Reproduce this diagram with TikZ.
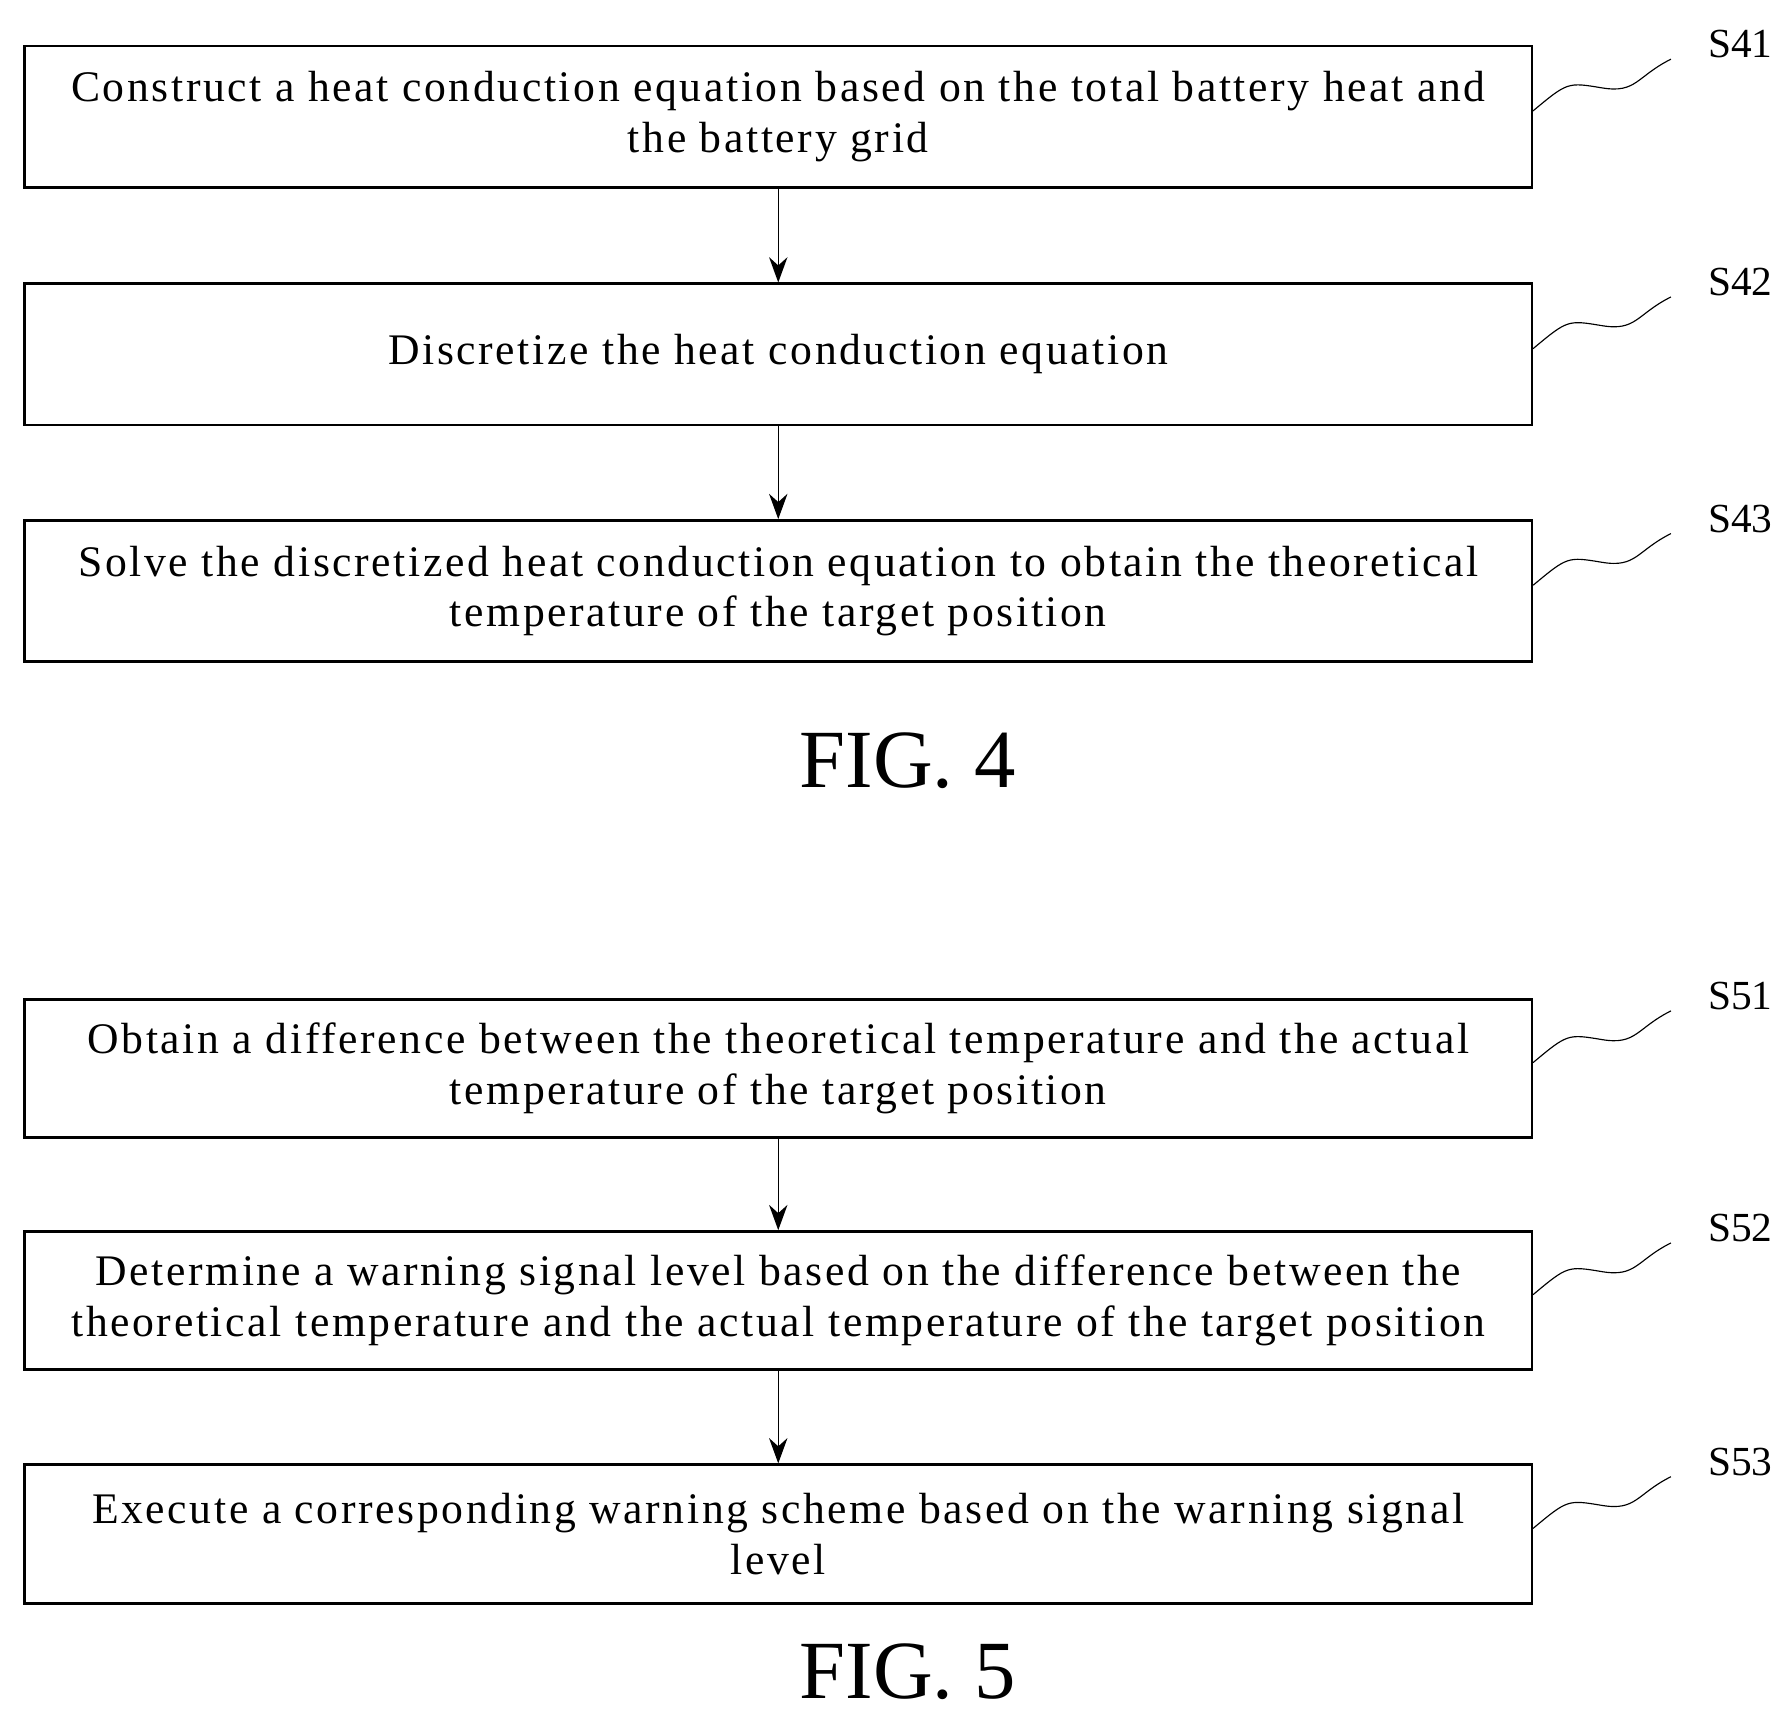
\documentclass[tikz,border=0pt]{standalone}
\usepackage{fontspec}
\setmainfont{Liberation Serif}
\usetikzlibrary{arrows.meta}
\begin{document}
\begin{tikzpicture}[x=1pt,y=-1pt,
 box/.style={draw,line width=2.2pt,minimum width=1312pt,align=center,font=\fontsize{38}{44}\selectfont\addfontfeature{LetterSpace=6},inner sep=0pt},
 arr/.style={-{Stealth[length=22pt,width=16pt]},line width=1.3pt},
 lab/.style={font=\fontsize{36}{40}\selectfont},
 fig/.style={font=\fontsize{72}{80}\selectfont}]
\useasboundingbox (0,0) rectangle (1560,1497);
\def\step#1#2#3#4#5{%
 \node[box,minimum height=#3pt] (#1) at (677.5,#2) {#4};
 \node[lab] (#1l) at (1515,#2-63) {#5};
 \draw[line width=1pt] (#1.east) ++(0,-5) coordinate (#1a) .. controls +(30,-25) and +(-30,-5) .. ++(60,-20) .. controls +(30,5) and +(-30,15) .. ++(60,-25);}
\step{a}{101.5}{123}{Construct a heat conduction equation based on the total battery heat and\\the battery grid}{S41}
\step{b}{308.5}{123}{Discretize the heat conduction equation}{S42}
\step{c}{514.5}{123}{Solve the discretized heat conduction equation to obtain the theoretical\\temperature of the target position}{S43}
\node[fig] (f4) at (790,662) {FIG. 4};
\step{d}{930}{120}{Obtain a difference between the theoretical temperature and the actual\\temperature of the target position}{S51}
\step{e}{1132}{120}{Determine a warning signal level based on the difference between the\\theoretical temperature and the actual temperature of the target position}{S52}
\step{f}{1335.5}{121}{Execute a corresponding warning scheme based on the warning signal\\level}{S53}
\node[fig] (f5) at (790,1455) {FIG. 5};
\draw[arr] (a.south) -- (b.north);
\draw[arr] (b.south) -- (c.north);
\draw[arr] (d.south) -- (e.north);
\draw[arr] (e.south) -- (f.north);
\end{tikzpicture}
\end{document}
